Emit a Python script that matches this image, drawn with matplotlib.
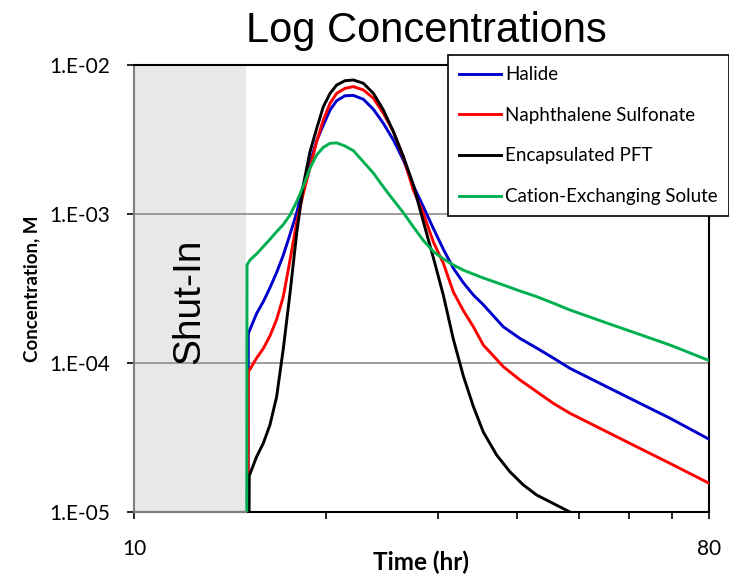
import matplotlib
matplotlib.use("Agg")
import matplotlib.pyplot as plt
from matplotlib.ticker import FixedLocator, FixedFormatter, NullFormatter

# time (hr)
halide_t = [15.1, 15.12, 15.58, 15.96, 16.35, 16.75, 17.16, 17.58, 18.01, 18.45, 18.90,
            19.36, 19.83, 20.32, 20.81, 21.45, 22.11, 22.92, 23.77, 24.64, 25.55,
            26.49, 27.46, 28.47, 29.52, 30.61, 31.73, 32.90, 34.12, 35.37, 38.02,
            40.40, 42.90, 45.56, 48.38, 54.59, 61.59, 69.48, 80.0]
halide_c = [5e-6, 1.58e-4, 2.15e-4, 2.58e-4, 3.2e-4, 4.05e-4, 5.3e-4, 7.3e-4, 1.02e-3,
            1.55e-3, 2.2e-3, 3.1e-3, 3.95e-3, 4.99e-3, 5.76e-3, 6.22e-3, 6.25e-3,
            5.89e-3, 5.04e-3, 4.06e-3, 3.14e-3, 2.30e-3, 1.55e-3, 1.12e-3, 8.0e-4,
            5.8e-4, 4.33e-4, 3.46e-4, 2.86e-4, 2.46e-4, 1.75e-4, 1.46e-4, 1.26e-4,
            1.08e-4, 9.21e-5, 7.11e-5, 5.50e-5, 4.26e-5, 3.08e-5]

naph_t = halide_t
naph_c = [5e-6, 8.7e-5, 1.08e-4, 1.25e-4, 1.52e-4, 1.96e-4, 2.79e-4, 4.9e-4, 8.8e-4,
          1.38e-3, 2.05e-3, 3.06e-3, 4.28e-3, 5.53e-3, 6.45e-3, 6.97e-3, 7.16e-3,
          6.80e-3, 5.98e-3, 4.74e-3, 3.57e-3, 2.40e-3, 1.45e-3, 1.01e-3, 6.5e-4,
          4.67e-4, 3.0e-4, 2.25e-4, 1.75e-4, 1.32e-4, 9.45e-5, 7.69e-5, 6.42e-5,
          5.36e-5, 4.60e-5, 3.55e-5, 2.74e-5, 2.12e-5, 1.56e-5]

pft_t = [15.15, 15.17, 15.58, 15.96, 16.35, 16.75, 17.16, 17.58, 18.01, 18.45, 18.90,
         19.36, 19.83, 20.32, 20.81, 21.45, 22.11, 22.92, 23.77, 24.64, 25.55,
         26.49, 27.46, 28.47, 29.52, 30.61, 31.73, 32.90, 34.12, 35.37, 37.12,
         38.95, 40.87, 42.90, 45.56, 48.38, 50.5]
pft_c = [5e-6, 1.75e-5, 2.35e-5, 2.89e-5, 3.84e-5, 5.94e-5, 1.25e-4, 2.94e-4, 7.42e-4,
         1.57e-3, 2.62e-3, 3.75e-3, 5.25e-3, 6.45e-3, 7.34e-3, 7.85e-3, 7.93e-3,
         7.54e-3, 6.45e-3, 4.99e-3, 3.57e-3, 2.43e-3, 1.57e-3, 8.9e-4, 5.1e-4,
         2.85e-4, 1.45e-4, 8.2e-5, 5.1e-5, 3.44e-5, 2.41e-5, 1.86e-5, 1.52e-5,
         1.30e-5, 1.14e-5, 1.00e-5, 9.0e-6]

cation_t = [15.03, 15.05, 15.21, 15.58, 15.96, 16.35, 16.75, 17.16, 17.58, 18.01, 18.45,
            18.90, 19.36, 19.83, 20.32, 20.81, 21.45, 22.11, 22.92, 23.77, 24.64,
            25.55, 26.49, 27.46, 28.47, 29.52, 30.61, 31.73, 32.90, 34.12, 35.37,
            38.02, 40.40, 42.90, 45.56, 48.38, 54.59, 61.59, 69.48, 80.0]
cation_c = [5e-6, 4.55e-4, 4.91e-4, 5.40e-4, 6.04e-4, 6.76e-4, 7.61e-4, 8.50e-4, 9.85e-4,
            1.21e-3, 1.54e-3, 2.03e-3, 2.49e-3, 2.80e-3, 2.98e-3, 3.00e-3, 2.86e-3,
            2.66e-3, 2.24e-3, 1.88e-3, 1.52e-3, 1.24e-3, 1.02e-3, 8.2e-4, 6.65e-4,
            5.6e-4, 5.0e-4, 4.55e-4, 4.2e-4, 3.95e-4, 3.72e-4, 3.34e-4, 3.04e-4,
            2.79e-4, 2.52e-4, 2.27e-4, 1.89e-4, 1.58e-4, 1.32e-4, 1.04e-4]

series_names = ["Halide", "Naphthalene Sulfonate", "Encapsulated PFT", "Cation-Exchanging Solute"]
series_colors = ["#0000CC", "#FF0000", "#000000", "#00B050"]

shut_in = (10, 15.0)
y_ticks = [1e-5, 1e-4, 1e-3, 1e-2]
y_labels = ["1.E-05", "1.E-04", "1.E-03", "1.E-02"]
x_major = [10, 80]
x_minor = [20, 30, 40, 50, 60, 70]

W, H = 729, 574
fig = plt.figure(figsize=(W / 100, H / 100), dpi=100)
ax = fig.add_axes([134 / W, 1 - 512 / H, (709 - 134) / W, (512 - 65) / H])

ax.axvspan(*shut_in, color="#e8e8e8", zorder=0, lw=0)

data = [(halide_t, halide_c), (naph_t, naph_c), (pft_t, pft_c), (cation_t, cation_c)]
for (t, c), name, col in zip(data, series_names, series_colors):
    ax.plot(t, c, color=col, lw=2.1, label=name, zorder=3)

ax.set_xscale("log")
ax.set_yscale("log")
ax.set_xlim(10, 80)
ax.set_ylim(1e-5, 1e-2)

ax.xaxis.set_major_locator(FixedLocator(x_major))
ax.xaxis.set_major_formatter(FixedFormatter([str(v) for v in x_major]))
ax.xaxis.set_minor_locator(FixedLocator(x_minor))
ax.xaxis.set_minor_formatter(NullFormatter())
ax.yaxis.set_major_locator(FixedLocator(y_ticks))
ax.yaxis.set_major_formatter(FixedFormatter(y_labels))
ax.yaxis.set_minor_locator(FixedLocator([]))
ax.tick_params(axis="x", which="both", direction="out", length=5, width=1.2, pad=14.5)
ax.tick_params(axis="y", which="major", direction="out", length=5, width=1.2, pad=12)
for lab in ax.get_xticklabels() + ax.get_yticklabels():
    lab.set_fontfamily("Lato")
    lab.set_fontsize(15)

ax.grid(axis="y", which="major", color="#8c8c8c", lw=1.2)
ax.set_axisbelow(True)

for side in ["top", "right", "bottom"]:
    ax.spines[side].set_color("black")
    ax.spines[side].set_linewidth(1.5)
ax.spines["left"].set_color("#808080")
ax.spines["left"].set_linewidth(1.5)
ax.plot(shut_in, [1e-5, 1e-5], color="#808080", lw=1.5, clip_on=False, zorder=4)

ax.text(12.2, 2.59e-4, "Shut-In", rotation=90, ha="center", va="center",
        family="Liberation Sans", fontsize=28)

fig.text(426.5 / W, 1 - 42 / H, "Log Concentrations", ha="center", va="baseline",
         family="Liberation Sans", fontsize=30)
fig.text(421 / W, 1 - 562 / H, "Time (hr)", ha="center", va="center",
         family="Lato", fontsize=17.5, fontweight="bold")
fig.text(32 / W, 1 - 288.5 / H, "Concentration, M", ha="center", va="center",
         rotation=90, family="Lato", fontsize=13.5, fontweight="bold")

leg = ax.legend(loc="upper left", bbox_to_anchor=(448 / W, 1 - 55 / H),
                bbox_transform=fig.transFigure, frameon=True, fancybox=False,
                edgecolor="black", framealpha=1, handlelength=2.24, handletextpad=0.2,
                labelspacing=1.26, borderpad=0.6, borderaxespad=0,
                prop=dict(family="Lato", size=13.5))
leg.get_frame().set_linewidth(1.2)
leg.set_zorder(10)

fig.savefig("out.png", dpi=100)
